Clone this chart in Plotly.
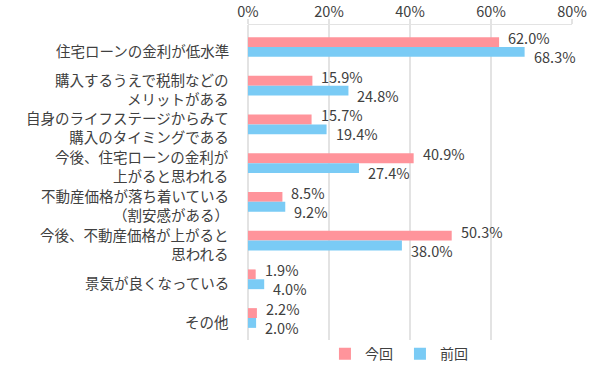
import plotly.graph_objects as go

categories = [
    "住宅ローンの金利が低水準",
    "購入するうえで税制などの<br>メリットがある",
    "自身のライフステージからみて<br>購入のタイミングである",
    "今後、住宅ローンの金利が<br>上がると思われる",
    "不動産価格が落ち着いている<br>（割安感がある）",
    "今後、不動産価格が上がると<br>思われる",
    "景気が良くなっている",
    "その他",
]
current = [62.0, 15.9, 15.7, 40.9, 8.5, 50.3, 1.9, 2.2]
previous = [68.3, 24.8, 19.4, 27.4, 9.2, 38.0, 4.0, 2.0]
series_names = ["今回", "前回"]
x_ticks = [0, 20, 40, 60, 80]

PINK = "#FF949B"
BLUE = "#7ACBF5"
TEXT = "#404040"
GRID = "#E3E3E3"
FONT = "Noto Sans CJK JP"

fig = go.Figure()
fig.add_trace(go.Bar(y=categories, x=current, name=series_names[0], orientation="h",
                     marker=dict(color=PINK, line=dict(width=0))))
fig.add_trace(go.Bar(y=categories, x=previous, name=series_names[1], orientation="h",
                     marker=dict(color=BLUE, line=dict(width=0))))

annotations = []
# category labels
for cat in categories:
    annotations.append(dict(
        xref="paper", x=0, yref="y", y=cat, text=cat, showarrow=False,
        xanchor="right", yanchor="middle", xshift=-17, yshift=-3,
        font=dict(family=FONT, size=14.5, color=TEXT), align="right"))
# value labels
for cat, v in zip(categories, current):
    annotations.append(dict(
        xref="x", x=v, yref="y", y=cat, text=f"{v:.1f}%", showarrow=False,
        xanchor="left", yanchor="middle", xshift=7, yshift=9.5,
        font=dict(family=FONT, size=14.5, color=TEXT)))
for cat, v in zip(categories, previous):
    annotations.append(dict(
        xref="x", x=v, yref="y", y=cat, text=f"{v:.1f}%", showarrow=False,
        xanchor="left", yanchor="middle", xshift=7, yshift=-9.5,
        font=dict(family=FONT, size=14.5, color=TEXT)))

fig.update_layout(
    width=602, height=365,
    margin=dict(l=248, r=30, t=25, b=25, autoexpand=False),
    paper_bgcolor="white", plot_bgcolor="white",
    barmode="group", bargap=0.49, bargroupgap=0,
    font=dict(family=FONT, color=TEXT, size=14),
    showlegend=True,
    legend=dict(orientation="h", x=0.469, xanchor="center", y=-0.045, yanchor="middle",
                font=dict(family=FONT, size=14, color=TEXT), traceorder="normal",
                itemwidth=30, entrywidth=30, entrywidthmode="pixels",
                bgcolor="rgba(0,0,0,0)"),
    annotations=annotations,
)
fig.update_xaxes(
    side="top", range=[0, 80], tickvals=x_ticks, ticktext=[f"{t}%" for t in x_ticks],
    showgrid=True, gridcolor=GRID, gridwidth=1.5,
    zeroline=True, zerolinecolor=GRID, zerolinewidth=1.5,
    showline=True, linecolor=GRID, linewidth=1.5,
    ticks="outside", ticklen=5, tickcolor=GRID, tickwidth=1.5, automargin=False,
    ticklabelstandoff=-4,
    tickfont=dict(family=FONT, size=14.5, color=TEXT), fixedrange=True,
)
fig.update_yaxes(
    autorange="reversed", showticklabels=False, showgrid=False, ticks="",
    showline=False, zeroline=False, fixedrange=True, automargin=False,
)

fig.write_html("out.html", config={"displayModeBar": False, "staticPlot": True},
               post_script="document.body.style.margin='0';document.body.style.overflow='hidden';")
